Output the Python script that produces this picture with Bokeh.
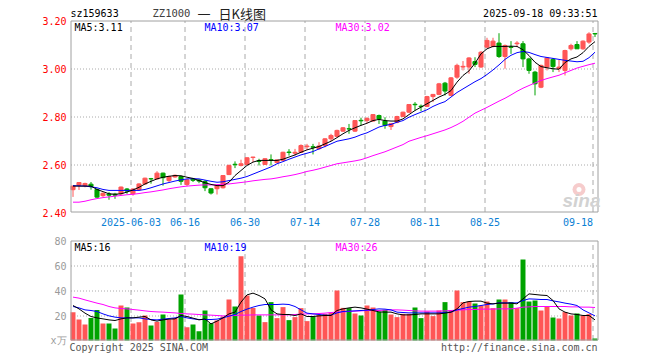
from bokeh.plotting import figure
from bokeh.models import ColumnDataSource, Label, Range1d
from bokeh.core.properties import value
from bokeh.embed import file_html
from bokeh.resources import INLINE

# ---------------- data ----------------
opens = [2.495, 2.514, 2.512, 2.518, 2.496, 2.470, 2.477, 2.476, 2.478, 2.498,
         2.478, 2.495, 2.519, 2.541, 2.540, 2.564, 2.533, 2.548, 2.550, 2.517,
         2.539, 2.535, 2.529, 2.499, 2.499, 2.503, 2.558, 2.601, 2.596, 2.600,
         2.629, 2.616, 2.600, 2.620, 2.608, 2.617, 2.652, 2.647, 2.651, 2.674,
         2.674, 2.666, 2.679, 2.707, 2.717, 2.739, 2.749, 2.739, 2.784, 2.783,
         2.781, 2.804, 2.781, 2.758, 2.776, 2.800, 2.818, 2.851, 2.843, 2.842,
         2.883, 2.892, 2.939, 2.888, 2.964, 3.006, 3.006, 3.029, 3.006, 3.089,
         3.092, 3.106, 3.050, 3.090, 3.103, 3.103, 3.040, 2.985, 2.922, 3.006,
         3.038, 3.000, 2.992, 3.082, 3.100, 3.082, 3.110, 3.146]
highs = [2.512, 2.527, 2.524, 2.527, 2.500, 2.484, 2.485, 2.482, 2.508, 2.502,
         2.500, 2.522, 2.545, 2.544, 2.572, 2.566, 2.553, 2.558, 2.553, 2.540,
         2.544, 2.540, 2.535, 2.500, 2.515, 2.556, 2.600, 2.613, 2.620, 2.630,
         2.632, 2.624, 2.626, 2.642, 2.621, 2.653, 2.664, 2.665, 2.684, 2.686,
         2.686, 2.693, 2.709, 2.728, 2.745, 2.756, 2.769, 2.785, 2.795, 2.797,
         2.810, 2.808, 2.797, 2.772, 2.803, 2.820, 2.852, 2.860, 2.850, 2.886,
         2.894, 2.940, 2.944, 2.964, 3.020, 3.031, 3.047, 3.047, 3.072, 3.128,
         3.128, 3.147, 3.100, 3.114, 3.114, 3.114, 3.045, 2.990, 3.016, 3.047,
         3.044, 3.036, 3.078, 3.103, 3.114, 3.117, 3.151, 3.147]
lows = [2.465, 2.494, 2.505, 2.495, 2.462, 2.465, 2.453, 2.457, 2.473, 2.478,
        2.470, 2.493, 2.515, 2.520, 2.538, 2.512, 2.527, 2.545, 2.515, 2.510,
        2.527, 2.522, 2.489, 2.475, 2.475, 2.500, 2.556, 2.585, 2.592, 2.598,
        2.610, 2.596, 2.598, 2.596, 2.605, 2.615, 2.637, 2.637, 2.648, 2.661,
        2.642, 2.661, 2.672, 2.697, 2.714, 2.736, 2.728, 2.736, 2.763, 2.772,
        2.778, 2.769, 2.749, 2.744, 2.772, 2.797, 2.815, 2.825, 2.822, 2.839,
        2.860, 2.889, 2.888, 2.885, 2.957, 2.992, 2.978, 3.006, 3.003, 3.086,
        3.088, 3.044, 2.999, 3.061, 3.089, 3.006, 2.978, 2.888, 2.918, 2.992,
        2.985, 2.985, 2.971, 3.075, 3.082, 3.078, 3.103, 3.131]
closes = [2.510, 2.525, 2.521, 2.508, 2.464, 2.480, 2.472, 2.472, 2.506, 2.489,
          2.498, 2.519, 2.543, 2.540, 2.564, 2.545, 2.550, 2.555, 2.530, 2.536,
          2.534, 2.531, 2.503, 2.481, 2.513, 2.554, 2.596, 2.599, 2.603, 2.628,
          2.631, 2.613, 2.624, 2.618, 2.619, 2.651, 2.650, 2.651, 2.679, 2.677,
          2.672, 2.677, 2.707, 2.721, 2.742, 2.753, 2.748, 2.783, 2.782, 2.792,
          2.808, 2.790, 2.763, 2.770, 2.800, 2.818, 2.850, 2.849, 2.841, 2.883,
          2.892, 2.936, 2.906, 2.961, 3.013, 3.009, 3.044, 3.017, 3.068, 3.117,
          3.114, 3.050, 3.096, 3.088, 3.106, 3.040, 2.992, 2.936, 3.013, 3.044,
          3.008, 3.006, 3.075, 3.096, 3.082, 3.114, 3.144, 3.144]

ma5 = [2.510, 2.510, 2.510, 2.510, 2.496, 2.487, 2.478, 2.476, 2.478, 2.485,
       2.494, 2.505, 2.519, 2.530, 2.540, 2.547, 2.551, 2.554, 2.553, 2.547,
       2.542, 2.533, 2.524, 2.517, 2.512, 2.512, 2.526, 2.554, 2.575, 2.596,
       2.610, 2.617, 2.617, 2.617, 2.617, 2.622, 2.631, 2.640, 2.651, 2.661,
       2.668, 2.675, 2.686, 2.697, 2.712, 2.728, 2.742, 2.753, 2.763, 2.772,
       2.783, 2.788, 2.783, 2.781, 2.781, 2.790, 2.808, 2.825, 2.839, 2.853,
       2.867, 2.881, 2.892, 2.908, 2.943, 2.971, 2.990, 3.022, 3.061, 3.082,
       3.092, 3.092, 3.092, 3.093, 3.092, 3.078, 3.054, 3.026, 3.008, 3.003,
       2.999, 2.997, 3.025, 3.040, 3.048, 3.066, 3.092, 3.112]
ma10 = [2.512, 2.511, 2.510, 2.507, 2.503, 2.496, 2.492, 2.492, 2.492, 2.492,
        2.492, 2.492, 2.496, 2.503, 2.511, 2.519, 2.525, 2.531, 2.536, 2.540,
        2.541, 2.540, 2.535, 2.530, 2.526, 2.528, 2.533, 2.538, 2.543, 2.550,
        2.560, 2.570, 2.580, 2.590, 2.603, 2.612, 2.622, 2.631, 2.640, 2.647,
        2.654, 2.665, 2.675, 2.686, 2.697, 2.702, 2.707, 2.714, 2.724, 2.732,
        2.744, 2.756, 2.763, 2.767, 2.776, 2.783, 2.797, 2.808, 2.818, 2.828,
        2.842, 2.853, 2.862, 2.881, 2.900, 2.915, 2.930, 2.945, 2.958, 2.975,
        2.994, 3.015, 3.038, 3.055, 3.066, 3.071, 3.067, 3.058, 3.050, 3.046,
        3.042, 3.038, 3.034, 3.031, 3.028, 3.030, 3.045, 3.068]
ma30 = [2.443, 2.443, 2.447, 2.453, 2.458, 2.462, 2.465, 2.468, 2.471, 2.474,
        2.476, 2.479, 2.483, 2.486, 2.490, 2.494, 2.499, 2.503, 2.507, 2.510,
        2.512, 2.514, 2.515, 2.515, 2.516, 2.518, 2.519, 2.522, 2.525, 2.528,
        2.532, 2.535, 2.538, 2.540, 2.544, 2.549, 2.553, 2.558, 2.564, 2.571,
        2.576, 2.582, 2.589, 2.596, 2.603, 2.607, 2.611, 2.615, 2.620, 2.628,
        2.637, 2.645, 2.653, 2.663, 2.673, 2.683, 2.697, 2.705, 2.713, 2.720,
        2.728, 2.736, 2.744, 2.754, 2.766, 2.780, 2.797, 2.814, 2.826, 2.838,
        2.851, 2.864, 2.876, 2.890, 2.905, 2.918, 2.929, 2.940, 2.950, 2.958,
        2.965, 2.972, 2.982, 2.992, 3.002, 3.009, 3.016, 3.022]

volume = [22.7, 16.8, 12.8, 18.1, 24.5, 13.6, 13.6, 9.6, 28.0, 26.4,
          13.6, 14.7, 20.0, 12.0, 14.9, 20.8, 16.8, 18.1, 36.8, 10.7,
          12.8, 7.5, 24.0, 13.9, 16.0, 19.2, 32.8, 27.2, 67.5, 36.0,
          26.1, 20.0, 14.7, 30.7, 17.9, 26.7, 16.3, 18.7, 25.9, 15.5,
          19.2, 20.5, 21.3, 22.1, 40.0, 26.1, 25.9, 21.6, 20.0, 28.0,
          26.4, 22.9, 24.5, 20.8, 18.7, 21.3, 21.3, 26.4, 17.9, 23.2,
          19.5, 24.0, 30.7, 24.0, 40.0, 30.7, 31.2, 29.6, 28.0, 31.2,
          25.9, 32.8, 32.8, 30.7, 25.9, 64.8, 31.2, 32.0, 24.0, 27.5,
          18.4, 17.6, 22.7, 20.0, 21.6, 19.7, 21.1, 1.6]
vma5 = [28.0, 25.3, 21.9, 19.2, 18.1, 17.3, 16.5, 16.0, 17.3, 18.1,
        18.1, 18.7, 19.2, 16.5, 15.5, 16.5, 17.1, 17.3, 20.0, 19.2,
        17.9, 16.5, 17.3, 13.3, 15.5, 18.1, 21.3, 22.7, 30.7, 36.5,
        37.9, 36.0, 33.3, 24.5, 21.3, 20.8, 20.8, 20.0, 21.3, 19.2,
        19.2, 19.7, 20.0, 20.0, 24.0, 25.3, 26.1, 26.7, 26.1, 25.1,
        24.0, 22.9, 22.7, 22.7, 21.3, 20.5, 20.5, 20.8, 21.3, 21.3,
        21.3, 21.3, 21.9, 22.7, 25.3, 30.1, 31.2, 31.5, 31.5, 29.9,
        29.3, 29.9, 29.9, 29.9, 29.3, 33.3, 37.3, 36.8, 36.3, 36.0,
        32.0, 25.3, 22.7, 21.3, 20.8, 20.0, 20.0, 16.5]
vma10 = [27.2, 26.1, 24.5, 24.0, 23.2, 21.3, 19.7, 18.7, 18.1, 18.1,
         18.1, 18.1, 17.3, 16.8, 16.5, 17.1, 17.6, 18.1, 19.2, 18.1,
         17.3, 16.8, 16.8, 16.8, 17.1, 18.1, 19.5, 20.8, 23.2, 25.1,
         26.7, 28.0, 28.8, 28.8, 28.8, 29.1, 28.8, 27.2, 24.5, 21.9,
         21.3, 20.8, 20.3, 20.3, 22.1, 23.2, 23.5, 23.7, 24.0, 24.3,
         24.8, 25.3, 25.1, 24.5, 22.7, 22.4, 22.1, 22.1, 22.1, 22.1,
         22.1, 22.1, 22.4, 22.7, 24.5, 25.6, 26.7, 27.2, 28.0, 28.8,
         29.3, 30.1, 30.1, 30.1, 30.1, 32.0, 33.3, 33.1, 32.8, 32.8,
         31.7, 30.9, 29.9, 29.1, 28.0, 24.5, 22.1, 19.7]
vma30 = [34.7, 33.9, 32.5, 31.2, 29.9, 28.8, 27.2, 26.1, 25.6, 25.3,
         24.8, 24.3, 23.7, 23.2, 22.9, 22.7, 22.4, 22.1, 21.6, 21.3,
         21.1, 20.8, 20.5, 20.3, 20.0, 19.7, 19.7, 20.0, 20.3, 20.3,
         20.5, 20.5, 20.5, 20.5, 20.5, 20.5, 20.5, 20.8, 21.1, 21.3,
         21.3, 21.6, 21.9, 22.4, 22.7, 22.9, 23.2, 23.5, 23.7, 24.0,
         24.0, 24.0, 24.3, 24.5, 24.5, 24.3, 24.0, 23.7, 23.5, 23.5,
         23.5, 23.5, 23.7, 24.0, 24.3, 24.5, 24.8, 24.8, 25.1, 25.1,
         25.1, 25.3, 25.3, 25.3, 25.9, 26.7, 26.9, 27.2, 27.2, 27.2,
         27.2, 27.2, 27.2, 26.9, 26.9, 26.7, 26.7, 26.4]

tick_index = [10, 19, 29, 39, 49, 59, 69, 87]
tick_labels = ["2025-06-03", "06-16", "06-30", "07-14", "07-28", "08-11", "08-25", "09-18"]
price_ticks = [3.20, 3.00, 2.80, 2.60, 2.40]
vol_ticks = [80, 60, 40, 20, 0]
vol_tick_labels = ["80", "60", "40", "20", "x万"]

code = "sz159633"
title_parts = ["ZZ1000", "一", "日K线图"]
stamp = "2025-09-18 09:33:51"
price_legend = ["MA5:3.11", "MA10:3.07", "MA30:3.02"]
vol_legend = ["MA5:16", "MA10:19", "MA30:26"]
copyright_text = "Copyright 2025 SINA.COM"
site_text = "http://finance.sina.com.cn"

# ---------------- style ----------------
RED = "#ff5656"
GREEN = "#00a300"
MONO = "DejaVu Sans Mono"
CJK = "Noto Sans CJK SC"
FS = "10px"
FRAME = "#a0a0a0"
GRID = "#aaaaaa"
DATE_BLUE = "#0b80d4"
W, H = 660, 360

# pixel layout of the two panels (frame: x 70..597, price y 20..212, volume y 240..340)
PX_PER_BAR = 6.0
X0 = -0.4167 - 70 / PX_PER_BAR


def px2x(px):
    return X0 + px / PX_PER_BAR


def py2price(py):
    return 3.20 - (py - 20) / 240.0


def py2vol(py):
    return (340 - py) / 1.25


n = len(closes)
xs = list(range(n))
colors = [RED if c >= o else GREEN for o, c in zip(opens, closes)]
src = ColumnDataSource(dict(
    x=xs, open=opens, high=highs, low=lows, close=closes,
    top=[max(o, c) for o, c in zip(opens, closes)],
    bottom=[min(o, c) for o, c in zip(opens, closes)],
    color=colors, vol=volume,
    ma5=ma5, ma10=ma10, ma30=ma30, vma5=vma5, vma10=vma10, vma30=vma30,
))

p = figure(width=W, height=H,
           x_range=Range1d(px2x(0), px2x(W)),
           y_range=Range1d(py2price(H), py2price(0)),
           output_backend="svg", toolbar_location=None,
           x_axis_location=None, y_axis_location=None,
           min_border=0, min_border_left=0, min_border_right=0,
           min_border_top=0, min_border_bottom=0,
           background_fill_color="white", border_fill_color="white",
           outline_line_color=None)
p.extra_y_ranges = {"vol": Range1d(py2vol(H), py2vol(0))}
p.grid.visible = False

fl, fr = px2x(70.5), px2x(597.5)
grid_x = [t - 1.0 / 3.0 for t in tick_index]


def txt(x, y, t, color="#000000", align="left", size=FS, font=MONO, style="normal", yr="default"):
    p.add_layout(Label(x=x, y=y, text=t, text_color=color, text_align=align,
                       text_baseline="middle", text_font=font, text_font_size=size,
                       text_font_style=style, y_range_name=yr))


# watermark (drawn first, behind everything)
p.scatter(x=[px2x(578.5)], y=[py2price(189)], size=13, marker="circle",
          fill_color="#f6cccc", line_color=None)
p.scatter(x=[px2x(578.5)], y=[py2price(189)], size=5, marker="circle",
          fill_color="#ffffff", line_color=None)
txt(px2x(581), py2price(200), "sina", "#d2d2d2", align="center", size="19px",
    font="Liberation Sans", style="bold italic")

# ---- price panel decorations ----
hy = [2.60 - 0.5 / 240, 2.80 - 0.5 / 240, 3.00 - 0.5 / 240]
p.segment(x0=fl, x1=fr, y0=hy, y1=hy, line_color=GRID, line_dash="1 2", line_width=1)
p.segment(x0=grid_x, x1=grid_x, y0=py2price(211.5), y1=py2price(20.5),
          line_color=GRID, line_dash="5 4", line_width=1)

# candles
p.segment(x0="x", y0="low", x1="x", y1="high", color="color", line_width=1, source=src)
p.vbar(x="x", width=0.68, top="top", bottom="bottom", fill_color="color",
       line_color="color", line_width=1, source=src)
p.line(x="x", y="ma30", color="#ff00ff", line_width=1, source=src)
p.line(x="x", y="ma10", color="#0000ff", line_width=1, source=src)
p.line(x="x", y="ma5", color="#000000", line_width=1, source=src)

p.quad(left=[fl], right=[fr], bottom=[py2price(211.5)], top=[py2price(20.5)],
       fill_color=None, line_color=FRAME, line_width=1)

# ---- volume panel ----
vgrid = [v - 0.4 for v in (20, 40, 60)]
p.segment(x0=fl, x1=fr, y0=vgrid, y1=vgrid,
          line_color=GRID, line_dash="1 2", line_width=1, y_range_name="vol")
p.segment(x0=grid_x, x1=grid_x, y0=py2vol(339.5), y1=py2vol(240.5),
          line_color=GRID, line_dash="5 4", line_width=1, y_range_name="vol")
p.vbar(x="x", width=0.83, top="vol", bottom=0, fill_color="color", line_color=None,
       source=src, y_range_name="vol")
p.line(x="x", y="vma30", color="#ff00ff", line_width=1, source=src, y_range_name="vol")
p.line(x="x", y="vma10", color="#0000ff", line_width=1, source=src, y_range_name="vol")
p.line(x="x", y="vma5", color="#000000", line_width=1, source=src, y_range_name="vol")
p.quad(left=[fl], right=[fr], bottom=[py2vol(339.5)], top=[py2vol(240.5)],
       fill_color=None, line_color=FRAME, line_width=1, y_range_name="vol")

# ---- texts ----
p.text(x=[px2x(66)] * len(price_ticks), y=price_ticks,
       text=["%.2f" % t for t in price_ticks],
       text_align="right", text_baseline="middle", text_color="#ff0000",
       text_font=value(MONO), text_font_size=FS)
p.text(x=[px2x(66)] * len(vol_ticks), y=vol_ticks, text=vol_tick_labels,
       text_align="right", text_baseline="middle", text_color="#9a9a9a",
       text_font=value(MONO), text_font_size=FS, y_range_name="vol")

for gx, tl in zip(grid_x, tick_labels):
    if tl == tick_labels[-1]:
        txt(gx, py2price(221), tl, DATE_BLUE, align="right")
    else:
        txt(gx, py2price(221), tl, DATE_BLUE, align="center")

# header
txt(px2x(70), py2price(13), code)
txt(px2x(152), py2price(12.5), title_parts[0], "#404040", size="10.5px", font=MONO)
txt(px2x(203.5), py2price(12.5), title_parts[1], "#202020", align="center", size="13px", font=CJK)
txt(px2x(218), py2price(12.5), title_parts[2], "#202020", size="13px", font=CJK)
txt(px2x(597), py2price(13), stamp, align="right")

leg_cols = ["#000000", "#0000ff", "#ff00ff"]
leg_px = [74, 204, 335]
for t, c, lx in zip(price_legend, leg_cols, leg_px):
    txt(px2x(lx), py2price(26.5), t, c)
for t, c, lx in zip(vol_legend, leg_cols, leg_px):
    txt(px2x(lx), py2vol(246.5), t, c, yr="vol")

txt(px2x(69), py2vol(346.5), copyright_text, "#555555", yr="vol")
txt(px2x(597), py2vol(346.5), site_text, "#555555", align="right", yr="vol")

open("out.html", "w").write(file_html(p, INLINE))
